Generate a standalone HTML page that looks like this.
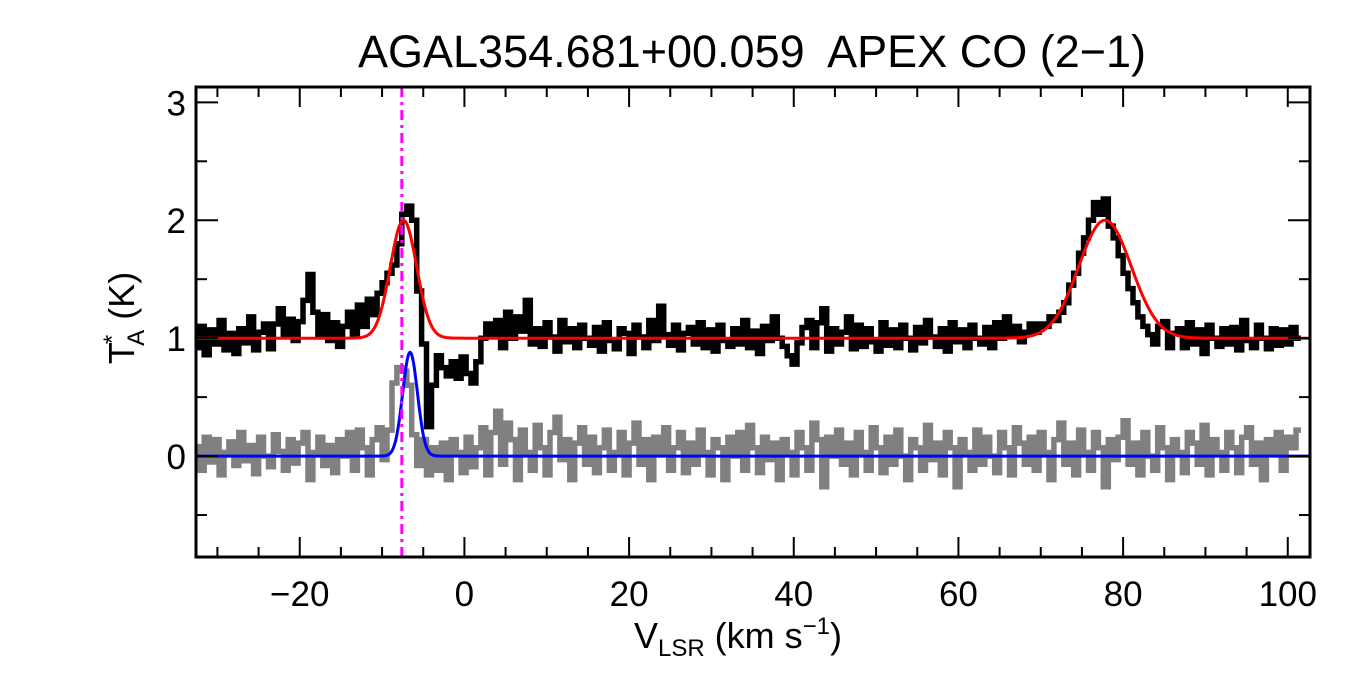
<!DOCTYPE html>
<html><head><meta charset="utf-8"><style>
body{margin:0;background:#fff;}
svg{display:block;font-family:"Liberation Sans",Arial,sans-serif;}
</style></head><body>
<svg id="chart" width="1350" height="675" viewBox="0 0 1350 675">
<rect width="1350" height="675" fill="#fff"/>
<g id="marks"></g>
<g id="axes"></g>
<text x="752" y="67" font-size="45" text-anchor="middle" style="white-space:pre">AGAL354.681+00.059  APEX CO (2−1)</text>
<text x="738" y="648" font-size="36" text-anchor="middle">V<tspan font-size="24" dy="8">LSR</tspan><tspan dy="-8"> (km s</tspan><tspan font-size="24" dy="-14">−1</tspan><tspan dy="14">)</tspan></text>
<text transform="translate(134,318) rotate(-90)" font-size="36" text-anchor="middle">T<tspan font-size="24" dy="-14" dx="-2">*</tspan><tspan font-size="24" dy="24" dx="-11">A</tspan><tspan dy="-10"> (K)</tspan></text>
</svg>
<script>
const vStart = -32.5;
const vStep = 0.6;
const blackSpec = [
0.92,1.10,0.86,1.07,0.95,1.15,0.90,1.04,0.87,1.08,
0.96,1.18,0.90,1.05,1.12,0.91,1.12,1.25,1.03,1.16,
0.98,1.14,1.32,1.54,1.22,1.02,1.20,0.98,1.13,0.93,
1.10,1.22,1.02,1.28,1.10,1.33,1.20,1.38,1.47,1.55,
1.62,1.80,2.05,2.12,2.00,1.40,0.95,0.25,0.60,0.85,
0.75,0.68,0.80,0.66,0.84,0.70,0.62,0.80,1.00,1.12,
1.03,1.15,0.92,1.22,1.00,1.18,1.06,1.32,0.95,1.08,
0.93,1.13,1.01,0.89,1.15,0.97,1.08,0.92,1.11,1.00,
0.94,1.09,0.89,1.13,0.98,0.91,1.08,1.04,0.87,1.11,
1.01,0.92,1.15,0.98,1.27,1.03,0.94,1.11,0.90,1.04,
1.09,0.95,1.13,0.92,1.07,0.89,1.11,0.98,0.93,1.08,
0.95,1.15,0.92,1.06,0.87,1.10,0.98,1.18,1.00,0.93,
0.85,0.78,0.96,1.09,1.15,0.92,1.13,1.25,0.89,1.08,
0.95,1.05,1.18,0.91,1.11,0.93,1.08,0.97,0.89,1.13,
0.94,1.07,0.92,1.11,1.00,0.90,1.09,0.96,1.15,1.01,
0.93,1.08,0.89,1.13,0.97,1.07,0.92,1.11,1.00,0.95,
1.09,0.92,1.13,1.00,1.18,1.02,1.10,0.97,1.05,1.12,
1.05,1.12,1.10,1.18,1.15,1.22,1.30,1.45,1.55,1.72,
1.85,2.00,2.15,2.05,2.18,1.95,1.85,1.70,1.55,1.42,
1.30,1.18,1.10,1.03,0.95,1.10,1.14,0.92,1.04,1.08,
0.92,1.13,0.95,1.07,0.87,1.11,1.00,0.93,1.08,0.95,
1.09,0.90,1.15,0.98,0.92,1.11,1.00,0.91,1.08,0.94,
1.07,0.95,1.09,1.00];
const graySpec = [
0.08,-0.12,0.16,-0.05,0.14,-0.16,0.03,0.12,-0.08,0.20,
-0.04,0.09,-0.15,0.16,0.00,-0.09,0.18,0.04,-0.12,0.14,
-0.06,0.11,0.20,-0.20,0.03,0.16,-0.08,0.09,-0.14,0.14,
0.00,0.20,-0.12,0.22,0.07,-0.16,0.14,0.24,-0.03,0.22,
0.62,0.75,0.72,0.60,0.18,-0.08,0.14,-0.16,0.07,-0.12,
0.11,-0.20,0.14,0.03,-0.14,0.16,-0.09,0.07,0.24,-0.16,
0.20,0.38,-0.07,0.28,0.14,-0.20,0.22,0.03,-0.12,0.26,
0.07,-0.16,0.20,0.33,-0.03,0.14,-0.20,0.11,0.24,-0.07,
0.16,-0.14,0.07,0.22,-0.12,0.03,0.20,-0.16,0.11,0.28,
-0.07,0.14,-0.20,0.16,0.03,0.24,-0.12,0.07,0.20,-0.14,
0.11,-0.07,0.22,0.03,-0.16,0.14,0.07,-0.20,0.16,0.00,
0.20,-0.12,0.26,0.07,-0.14,0.16,-0.03,0.11,-0.20,0.14,
0.03,-0.16,0.20,0.07,-0.12,0.28,0.14,-0.26,0.16,0.00,
0.22,-0.07,0.11,-0.16,0.20,0.03,-0.12,0.24,0.07,-0.14,
0.16,-0.07,0.22,0.00,-0.20,0.14,0.07,-0.12,0.26,-0.03,
0.11,-0.16,0.20,0.07,-0.26,0.14,0.03,-0.12,0.22,-0.07,
0.16,0.00,-0.14,0.20,0.07,-0.16,0.24,0.11,-0.07,0.16,
-0.12,0.20,0.03,-0.20,0.14,0.28,-0.07,0.11,-0.16,0.22,
0.03,-0.12,0.20,0.07,-0.26,0.14,-0.03,0.16,0.30,-0.07,
0.11,-0.16,0.20,0.00,-0.12,0.24,0.07,-0.20,0.14,0.03,
-0.14,0.20,0.11,-0.07,0.26,-0.16,0.14,0.03,-0.12,0.20,
0.07,-0.14,0.16,0.24,-0.07,0.11,-0.20,0.14,0.03,0.20,
-0.12,0.16,0.07,0.22];
const redFit = {base:1.0, amps:[1.0,1.0], centers:[-7.4,77.8], sigmas:[1.6,3.2]};
const blueFit = {base:0.0, amps:[0.88], centers:[-6.6], sigmas:[0.9]};
const markerV = -7.6;
const xTicks = [-20,0,20,40,60,80,100];
const xTickLabels = ["−20","0","20","40","60","80","100"];
const yTicks = [0,1,2,3];
const yTickLabels = ["0","1","2","3"];

const L=196,R=1310,T=87,B=557;
const xMin=-32.6,xMax=102.7,yMin=-0.856,yMax=3.13;
const X=v=>L+(v-xMin)/(xMax-xMin)*(R-L);
const Y=t=>B-(t-yMin)/(yMax-yMin)*(B-T);
const NS="http://www.w3.org/2000/svg";
const marks=document.getElementById('marks');
const axes=document.getElementById('axes');
function mk(tag,attrs,parent){const e=document.createElementNS(NS,tag);for(const k in attrs)e.setAttribute(k,attrs[k]);parent.appendChild(e);return e;}

const clip=mk('clipPath',{id:'pc'},marks);
mk('rect',{x:L,y:T,width:R-L,height:B-T},clip);

function stepPath(arr){
  let d='';
  for(let i=0;i<arr.length;i++){
    const x0=Math.max(L,X(vStart+vStep*i-vStep/2)), x1=Math.min(R,X(vStart+vStep*i+vStep/2)), y=Y(arr[i]);
    d+=(i===0?'M':'L')+x0.toFixed(1)+','+y.toFixed(1)+'L'+x1.toFixed(1)+','+y.toFixed(1);
  }
  return d;
}
function fitPath(f){
  let d='';
  for(let v=xMin;v<=xMax;v+=0.1){
    let t=f.base;
    for(let k=0;k<f.amps.length;k++)t+=f.amps[k]*Math.exp(-Math.pow(v-f.centers[k],2)/(2*f.sigmas[k]*f.sigmas[k]));
    d+=(d?'L':'M')+X(v).toFixed(1)+','+Y(t).toFixed(1);
  }
  return d;
}
const g=mk('g',{'clip-path':'url(#pc)'},marks);
const gp=mk('path',{d:stepPath(graySpec),fill:'none',stroke:'#808080','stroke-width':5.5},g);


const bp=mk('path',{d:stepPath(blackSpec),fill:'none',stroke:'#000','stroke-width':5.5},g);


const rp=mk('path',{d:fitPath(redFit),fill:'none',stroke:'#ff0000','stroke-width':3},g);


const blp=mk('path',{d:fitPath(blueFit),fill:'none',stroke:'#0000ff','stroke-width':3},g);


const ml=mk('line',{x1:X(markerV),x2:X(markerV),y1:T,y2:B,stroke:'#ff00ff','stroke-width':3,'stroke-dasharray':'10,5,3,5'},g);



const fr=mk('rect',{x:L,y:T,width:R-L,height:B-T,fill:'none',stroke:'#000','stroke-width':3},axes);


for(let v=-30;v<=100;v+=5){
  const maj=v%20===0, len=maj?20:10, x=X(v);
  mk('line',{x1:x,x2:x,y1:B,y2:B-len,stroke:'#000','stroke-width':2},axes);
  mk('line',{x1:x,x2:x,y1:T,y2:T+len,stroke:'#000','stroke-width':2},axes);
}
for(let t=-0.5;t<=3;t+=0.5){
  const maj=Number.isInteger(t), len=maj?22:11, y=Y(t);
  mk('line',{x1:L,x2:L+len,y1:y,y2:y,stroke:'#000','stroke-width':2},axes);
  mk('line',{x1:R,x2:R-len,y1:y,y2:y,stroke:'#000','stroke-width':2},axes);
}
xTicks.forEach((v,i)=>{
  const t=mk('text',{x:X(v),y:606,'font-size':35,'text-anchor':'middle'},axes);
  t.textContent=xTickLabels[i];
  
  
});
yTicks.forEach((v,i)=>{
  const t=mk('text',{x:186,y:Y(v)+13,'font-size':35,'text-anchor':'end'},axes);
  t.textContent=yTickLabels[i];
  
  
});
</script>
</body></html>
